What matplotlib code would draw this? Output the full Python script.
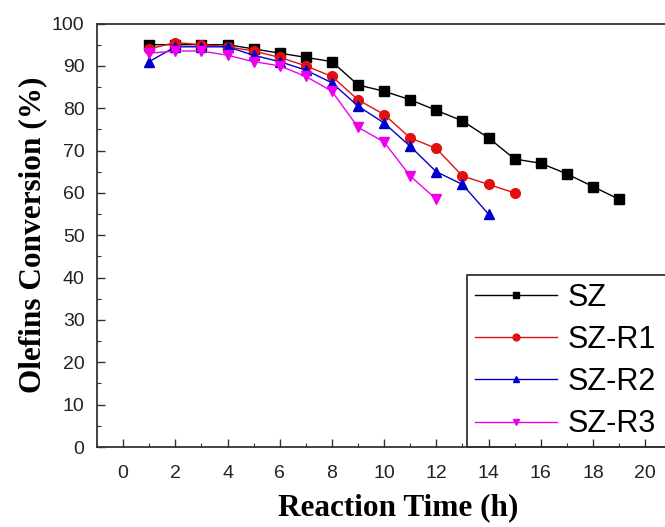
import numpy as np
import matplotlib
matplotlib.use("Agg")
import matplotlib.pyplot as plt
import matplotlib.ticker
from matplotlib.patches import Rectangle

# reaction time (h) and olefins conversion (%) for each catalyst
t_sz = [1, 2, 3, 4, 5, 6, 7, 8, 9, 10, 11, 12, 13, 14, 15, 16, 17, 18, 19]
conv_sz = [95, 95, 95, 95, 94, 93, 92, 91, 85.5, 84, 82, 79.5, 77, 73, 68, 67, 64.5, 61.5, 58.5]

t_r1 = [1, 2, 3, 4, 5, 6, 7, 8, 9, 10, 11, 12, 13, 14, 15]
conv_r1 = [94, 95.5, 95, 94.5, 93.5, 92, 90, 87.5, 82, 78.5, 73, 70.5, 64, 62, 60]

t_r2 = [1, 2, 3, 4, 5, 6, 7, 8, 9, 10, 11, 12, 13, 14]
conv_r2 = [91, 94.5, 94.5, 94.5, 92.5, 91, 89, 86, 80.5, 76.5, 71, 65, 62, 55]

t_r3 = [1, 2, 3, 4, 5, 6, 7, 8, 9, 10, 11, 12]
conv_r3 = [93, 93.5, 93.5, 92.5, 91, 90, 87.5, 84, 75.5, 72, 64, 58.5]

labels = ["SZ", "SZ-R1", "SZ-R2", "SZ-R3"]
x_ticks = [0, 2, 4, 6, 8, 10, 12, 14, 16, 18, 20]

W, H = 665, 527
fig = plt.figure(figsize=(W / 100, H / 100), dpi=100)
# plot area runs past the right edge of the figure
left, right, top, bottom = 97, 699, 23.5, 447
ax = fig.add_axes([left / W, (H - bottom) / H, (right - left) / W, (bottom - top) / H])

ax.plot(t_sz, conv_sz, color="black", marker="s", ms=7, lw=1, label=labels[0])
ax.plot(t_r1, conv_r1, color="#e01010", marker="o", ms=7, lw=1, label=labels[1])
ax.plot(t_r2, conv_r2, color="#0000cc", marker="^", ms=7, lw=1, label=labels[2])
ax.plot(t_r3, conv_r3, color="#ee00ee", marker="v", ms=7, lw=1, label=labels[3])

px_per_h = 26.15
x0 = 122
ax.set_xlim((left - x0) / px_per_h, (right - x0) / px_per_h)
ax.set_ylim(0, 100)

ax.set_xticks(x_ticks)
ax.set_xticks(np.arange(-1, 22, 1), minor=True)
ax.yaxis.set_major_locator(matplotlib.ticker.MultipleLocator(base=10))
ax.yaxis.set_minor_locator(matplotlib.ticker.MultipleLocator(base=5))
ax.tick_params(which="both", direction="in", colors="#333333", labelcolor="#222222",
               labelsize=14)
ax.tick_params(which="major", length=6, width=1)
ax.tick_params(which="minor", length=3, width=0.8)
ax.tick_params(axis="x", pad=13)
ax.tick_params(axis="y", pad=9)
for lab in ax.get_xticklabels() + ax.get_yticklabels():
    lab.set_family("Liberation Sans")
ax.spines["right"].set_visible(False)
for s in ["left", "bottom", "top"]:
    ax.spines[s].set_linewidth(1.3)
    ax.spines[s].set_color("#333333")

fig.text(398 / W, 1 - 508 / H, "Reaction Time (h)", family="Liberation Serif",
         fontweight="bold", fontsize=22.5, ha="center", va="center")
fig.text(33 / W, 1 - 235 / H, "Olefins Conversion (%)", family="Liberation Serif",
         fontweight="bold", fontsize=22.5, ha="center", va="center", rotation=90)

leg = ax.legend(loc="lower left", bbox_to_anchor=(467 / W, (H - bottom) / H),
                bbox_transform=fig.transFigure,
                prop={"family": "Liberation Sans", "size": 22},
                handlelength=2.68, markerscale=0.7, frameon=False,
                borderaxespad=0, labelspacing=0.40, handletextpad=0.36,
                borderpad=0.25)

# legend box runs off the right side, so draw its frame by hand
fig.canvas.draw()
bb = leg.get_window_extent().transformed(fig.transFigure.inverted())
fig.add_artist(Rectangle((bb.x0, bb.y0), 1.2 - bb.x0, bb.height,
                         transform=fig.transFigure, fill=False,
                         edgecolor="#333333", lw=1.3, zorder=5))

fig.savefig("out.png", dpi=100)
